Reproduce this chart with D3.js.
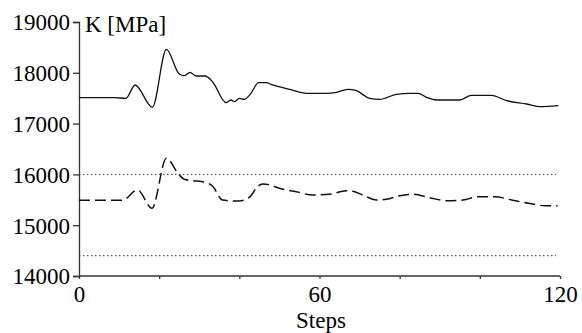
<!DOCTYPE html>
<html>
<head>
<meta charset="utf-8">
<script src="https://cdn.jsdelivr.net/npm/d3@7/dist/d3.min.js"></script>
<style>
  html, body { margin: 0; padding: 0; background: #fff; }
  svg { display: block; }
  svg text { font-family: "Liberation Serif", "Times New Roman", serif !important; }
</style>
</head>
<body>
<svg id="chart" width="582" height="333"></svg>
<script>
// ---- Data ----
const solidSteps  = [0, 9, 11.7, 14, 18.3, 21.8, 25, 26.25, 27.7, 29.2, 31.5, 33.3, 36.7, 37.9, 38.75, 40, 41.25, 42.9, 44.8, 46.7, 48.3, 52.5, 56.7, 61.7, 64.2, 67.1, 69.2, 72.5, 75, 79.2, 82.5, 84.6, 86.7, 89.2, 95, 97.9, 102.9, 106.7, 111.7, 115, 119.6];
const solidValues = [17510, 17510, 17498, 17760, 17321, 18463, 17976, 17943, 18010, 17937, 17937, 17825, 17411, 17465, 17431, 17498, 17478, 17596, 17805, 17805, 17760, 17675, 17596, 17596, 17616, 17675, 17648, 17498, 17478, 17577, 17596, 17596, 17518, 17465, 17465, 17557, 17557, 17451, 17386, 17333, 17352];

const dashedSteps  = [0, 10.8, 14.6, 18.2, 21.8, 25, 26.25, 28.3, 30.8, 33.3, 35.8, 39.2, 41.25, 42.9, 44.2, 45.8, 47.5, 50, 54.2, 58.3, 62.5, 66.7, 68.3, 70.8, 74.2, 76.7, 80, 83.3, 87.5, 91.7, 95.8, 99.6, 103.75, 107.9, 112.1, 116.25, 119.4];
const dashedValues = [15490, 15490, 15693, 15333, 16317, 15988, 15904, 15876, 15856, 15772, 15496, 15476, 15496, 15581, 15726, 15811, 15797, 15726, 15659, 15594, 15608, 15679, 15667, 15594, 15496, 15510, 15581, 15608, 15541, 15482, 15496, 15561, 15561, 15496, 15431, 15384, 15384];

const refLevels   = [16000, 14400];   // dotted horizontal lines
const refEnd      = 119;              // dotted lines end step
const yTicks      = [14000, 15000, 16000, 17000, 18000, 19000];
const xMinorTicks = [0, 20, 40, 60, 80, 100, 120];
const xLabels     = [0, 60, 120];
const yTitle = "K [MPa]";
const xTitle = "Steps";

const FONT = "Liberation Serif";
const FS = 23;

// ---- Scales ----
const svg = d3.select("#chart");
const x = d3.scaleLinear().domain([0, 120]).range([79, 560]);
const y = d3.scaleLinear().domain([14000, 19000]).range([276, 22]);

// ---- Reference dotted lines ----
svg.selectAll("line.ref").data(refLevels).enter().append("line")
  .attr("class", "ref")
  .attr("x1", x(0)).attr("x2", x(refEnd))
  .attr("y1", d => y(d)).attr("y2", d => y(d))
  .attr("stroke", "#333").attr("stroke-width", 1)
  .attr("stroke-dasharray", "1.5,2.5");

// ---- Axes ----
const yAxis = d3.axisLeft(y).tickValues(yTicks).tickSize(6).tickFormat(d3.format("d"));
const gy = svg.append("g").attr("transform", `translate(${x(0)},0)`).call(yAxis)
  .attr("font-family", FONT).attr("font-size", FS);
gy.select(".domain").attr("stroke", "#333").attr("stroke-width", 1.3);
gy.selectAll(".tick line").attr("stroke", "#333").attr("stroke-width", 1.3);
gy.selectAll(".tick text")
  .attr("x", -9).attr("dy", "0.34em")
  .attr("font-family", FONT).attr("font-size", FS).attr("fill", "#000");

const xAxis = d3.axisBottom(x).tickValues(xMinorTicks).tickSize(3)
  .tickFormat(d => xLabels.includes(d) ? d : "");
const gx = svg.append("g").attr("transform", `translate(0,${y(14000)})`).call(xAxis)
  .attr("font-family", FONT).attr("font-size", FS);
gx.select(".domain").attr("stroke", "#333").attr("stroke-width", 1.3).attr("d", `M${x(0)},0H${x(120)}`);
gx.selectAll(".tick line").attr("stroke", "#333").attr("stroke-width", 1.3);
gx.selectAll(".tick text")
  .attr("y", 10).attr("dy", "0.71em")
  .attr("font-family", FONT).attr("font-size", FS).attr("fill", "#000");

// ---- Titles ----
svg.append("text").attr("x", 85).attr("y", 31.5)
  .attr("font-family", FONT).attr("font-size", FS).text(yTitle);
svg.append("text").attr("x", 321).attr("y", 328).attr("text-anchor", "middle")
  .attr("font-family", FONT).attr("font-size", FS).text(xTitle);

// ---- Series ----
const line = d3.line().x(d => x(d[0])).y(d => y(d[1])).curve(d3.curveMonotoneX);
const solid = d3.zip(solidSteps, solidValues);
const dashed = d3.zip(dashedSteps, dashedValues);

svg.append("path").datum(solid).attr("d", line)
  .attr("fill", "none").attr("stroke", "#111").attr("stroke-width", 1.3);
svg.append("path").datum(dashed).attr("d", line)
  .attr("fill", "none").attr("stroke", "#111").attr("stroke-width", 1.5)
  .attr("stroke-dasharray", "11,5");
</script>
</body>
</html>
